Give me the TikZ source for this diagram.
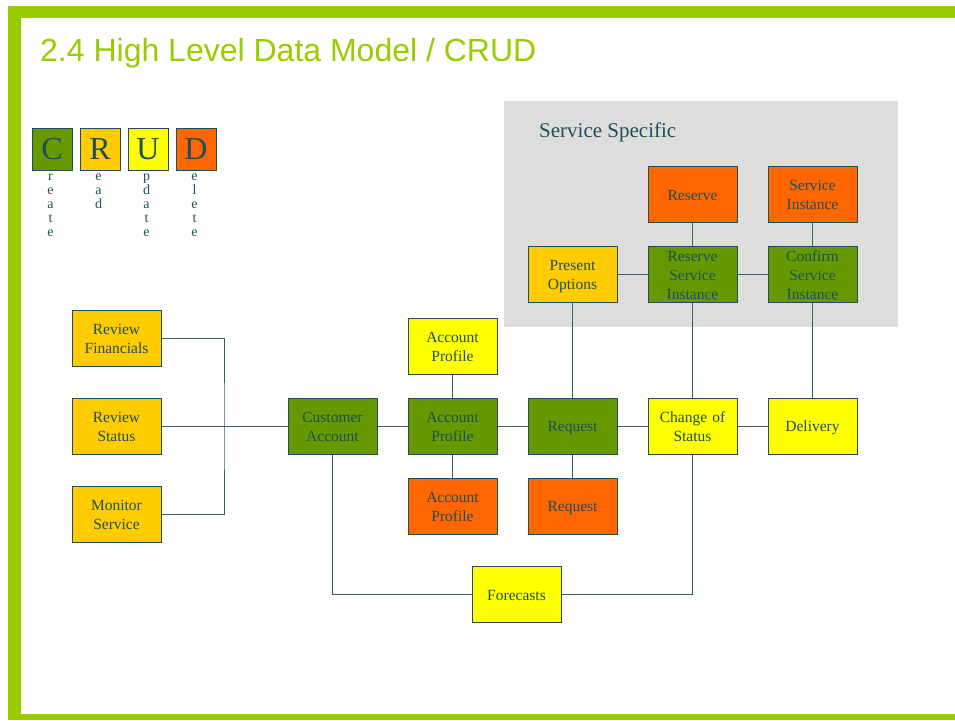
\documentclass[tikz,border=0pt]{standalone}
\usepackage{fontspec}
\setmainfont{Liberation Serif}
\newfontfamily\titlefont{Liberation Sans}
\usepackage{xcolor}
\usepackage{tikz}
\definecolor{framegreen}{HTML}{99CC00}
\definecolor{dteal}{HTML}{1F4E5A}
\definecolor{crudC}{HTML}{669900}
\definecolor{crudR}{HTML}{FFCC00}
\definecolor{crudU}{HTML}{FFFF00}
\definecolor{crudD}{HTML}{FF6600}
\definecolor{svcgray}{HTML}{DDDDDD}
\colorlet{linkcolor}{dteal!90!white}
\tikzstyle{ent}=[draw=dteal,line width=1pt,text=dteal,minimum width=89pt,minimum height=56pt,
  text width=85pt,align=center,inner xsep=2pt,inner ysep=0pt,font=\fontsize{15.5}{19}\selectfont,
  execute at begin node={\rule{0pt}{15pt}},execute at end node={\rule[-3pt]{0pt}{3pt}}]
\tikzstyle{ecreate}=[ent,fill=crudC]
\tikzstyle{eread}=[ent,fill=crudR]
\tikzstyle{eupdate}=[ent,fill=crudU]
\tikzstyle{edelete}=[ent,fill=crudD]
\tikzstyle{legend}=[draw=dteal,line width=1pt,text=dteal,minimum width=40pt,minimum height=42pt,
  inner sep=0pt,font=\fontsize{32}{32}\selectfont]
\tikzstyle{legword}=[anchor=north,align=center,inner sep=0pt,text=dteal,font=\fontsize{14}{13.8}\selectfont]
\tikzstyle{link}=[draw=linkcolor,line width=1pt]

\begin{document}
\begin{tikzpicture}[x=1pt,y=-1pt]
	\useasboundingbox (0,0) rectangle (955,720);
	% frame
	\fill[framegreen] (8,6) rectangle (955,18);
	\fill[framegreen] (8,6) rectangle (21,720);
	\fill[framegreen] (8,714) rectangle (955,720);
	\node[anchor=base west,inner sep=0pt,text=framegreen,font=\titlefont\fontsize{32}{36}\selectfont]
	  (title) at (40,61) {2.4 High Level Data Model / CRUD};
	% legend
	\foreach \ltr/\rest/\xc in {C/{r\\e\\a\\t\\e}/52,R/{e\\a\\d}/100,U/{p\\d\\a\\t\\e}/148,D/{e\\l\\e\\t\\e}/196}{
	  \node[legend,fill=crud\ltr] (crud-\ltr) at (\xc,149) {\ltr};
	  \node[legword] (word-\ltr) at (\xc-1.5,174) {\rest};
	}
	% service specific area
	\fill[svcgray] (504,101) rectangle (898,327);
	\node[anchor=base west,inner sep=0pt,text=dteal,font=\fontsize{21}{25}\selectfont]
	  (svclabel) at (539,137) {Service Specific};
	% entities
	\node[eread] (revfin)  at (116.5,338) {Review\\Financials};
	\node[eread] (revstat) at (116.5,426) {Review\\Status};
	\node[eread] (monsvc)  at (116.5,514) {Monitor\\Service};
	\node[ecreate] (custacc) at (332.5,426) {Customer\\Account};
	\node[eupdate] (accprofU) at (452.5,346) {Account\\Profile};
	\node[ecreate] (accprof)  at (452.5,426) {Account\\Profile};
	\node[edelete] (accprofD) at (452.5,506) {Account\\Profile};
	\node[ecreate] (req)  at (572.5,426) {Request};
	\node[edelete] (reqD) at (572.5,506) {Request};
	\node[eupdate] (chgstat) at (692.5,426) {Change of\\Status};
	\node[eupdate] (deliv)   at (812.5,426) {Delivery};
	\node[eupdate] (forecast) at (516.5,594) {Forecasts};
	\node[eread]   (presopt)  at (572.5,274) {Present\\Options};
	\node[ecreate] (resinst)  at (692.5,274) {Reserve\\Service\\Instance};
	\node[ecreate] (confinst) at (812.5,274) {Confirm\\Service\\Instance};
	\node[edelete] (reserve)  at (692.5,194) {Reserve};
	\node[edelete] (svcinst)  at (812.5,194) {Service\\Instance};
	% links
	\coordinate (join) at (224,426);
	\draw[link] (revfin.east) -| (join) |- (monsvc.east);
	\draw[link] (revstat) -- (custacc);
	\draw[link] (custacc) -- (accprof) -- (req) -- (chgstat) -- (deliv);
	\draw[link] (accprofU) -- (accprof) -- (accprofD);
	\draw[link] (presopt) -- (req) -- (reqD);
	\draw[link] (chgstat) -- (resinst) -- (reserve);
	\draw[link] (deliv) -- (confinst) -- (svcinst);
	\draw[link] (presopt) -- (resinst) -- (confinst);
	\draw[link] (custacc) |- (forecast);
	\draw[link] (chgstat) |- (forecast);
\end{tikzpicture}
\end{document}
